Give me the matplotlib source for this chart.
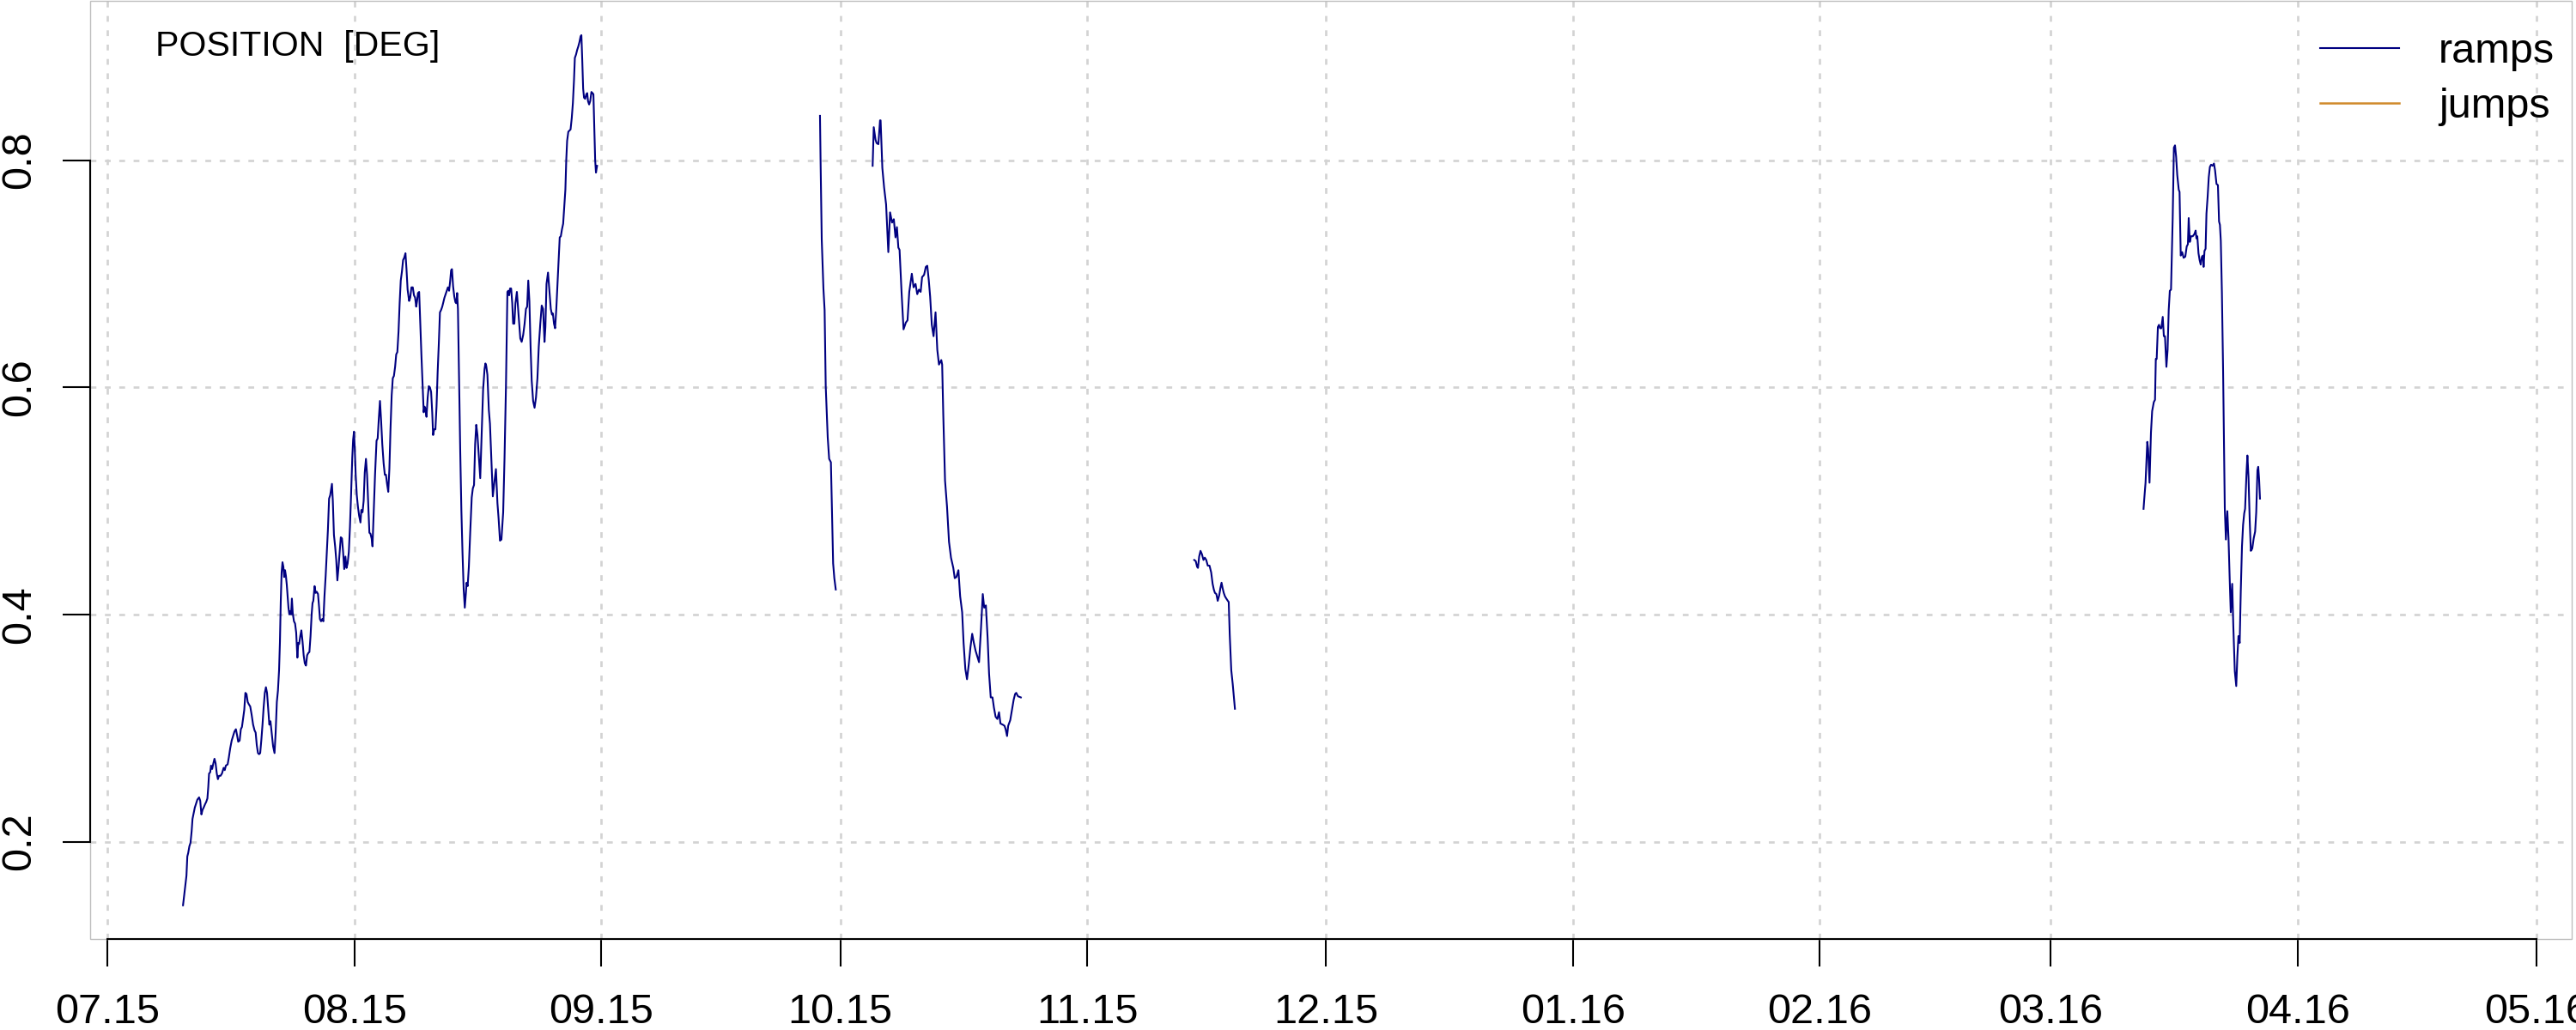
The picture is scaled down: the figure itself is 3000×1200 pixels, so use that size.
import numpy as np
import matplotlib
matplotlib.use("Agg")
import matplotlib.pyplot as plt
from matplotlib.patches import Rectangle

plt.rcParams['font.family'] = ['Liberation Sans', 'DejaVu Sans']

# ---------------- data (x = days since 2015-07-01, y = position in deg) ----
seg1 = [(9.47,0.144),(9.62,0.153),(9.76,0.162),(9.90,0.170),(10.01,0.187),(10.12,0.190),(10.27,0.196),(10.41,0.199),(10.55,0.209),(10.66,0.220),
(10.81,0.225),(10.95,0.230),(11.09,0.233),(11.27,0.237),(11.49,0.239),(11.63,0.236),(11.78,0.224),(11.92,0.228),(12.06,0.230),(12.24,0.233),
(12.38,0.235),(12.53,0.238),(12.64,0.248),(12.74,0.260),(12.88,0.261),(12.99,0.267),(13.13,0.264),(13.28,0.269),(13.42,0.273),(13.56,0.269),
(13.71,0.260),(13.85,0.255),(13.99,0.258),(14.18,0.258),(14.36,0.260),(14.57,0.265),(14.71,0.263),(14.85,0.267),(15.07,0.268),(15.22,0.274),
(15.39,0.282),(15.58,0.289),(15.76,0.293),(15.93,0.297),(16.11,0.299),(16.25,0.294),(16.40,0.288),(16.58,0.289),(16.73,0.299),(16.87,0.301),
(17.01,0.308),(17.16,0.316),(17.30,0.331),(17.44,0.330),(17.59,0.323),(17.73,0.321),(17.91,0.319),(18.08,0.312),(18.27,0.303),(18.45,0.298),
(18.59,0.296),(18.73,0.285),(18.88,0.278),(19.02,0.277),(19.16,0.278),(19.31,0.290),(19.45,0.303),(19.59,0.318),(19.74,0.331),(19.88,0.336),
(20.02,0.331),(20.17,0.316),(20.31,0.303),(20.45,0.306),(20.60,0.296),(20.78,0.284),(20.96,0.278),(21.10,0.296),(21.25,0.323),(21.39,0.333),
(21.53,0.351),(21.64,0.376),(21.74,0.411),(21.85,0.437),(21.96,0.446),(22.07,0.442),(22.17,0.433),(22.28,0.439),(22.39,0.434),(22.50,0.426),
(22.60,0.416),(22.71,0.406),(22.82,0.400),(22.93,0.403),(23.04,0.400),(23.14,0.414),(23.25,0.401),(23.40,0.394),(23.54,0.392),(23.68,0.384),
(23.83,0.362),(23.94,0.375),(24.05,0.374),(24.19,0.381),(24.33,0.386),(24.48,0.376),(24.62,0.364),(24.76,0.357),(24.91,0.355),(25.05,0.364),
(25.19,0.366),(25.34,0.367),(25.48,0.381),(25.62,0.400),(25.73,0.410),(25.83,0.412),(25.99,0.425),(26.12,0.419),(26.26,0.420),(26.42,0.418),
(26.56,0.406),(26.66,0.396),(26.80,0.394),(26.95,0.396),(27.09,0.394),(27.23,0.416),(27.38,0.434),(27.52,0.454),(27.66,0.474),(27.81,0.502),
(27.95,0.505),(28.06,0.510),(28.17,0.515),(28.28,0.500),(28.42,0.470),(28.57,0.460),(28.71,0.448),(28.85,0.430),(29.00,0.442),(29.14,0.455),
(29.28,0.468),(29.43,0.467),(29.57,0.455),(29.71,0.440),(29.86,0.451),(30.00,0.441),(30.14,0.445),(30.29,0.455),(30.43,0.477),(30.57,0.505),
(30.72,0.538),(30.83,0.554),(30.94,0.561),(31.04,0.545),(31.15,0.523),(31.29,0.505),(31.43,0.495),(31.58,0.487),(31.75,0.481),(31.86,0.492),
(32.01,0.490),(32.15,0.500),(32.29,0.525),(32.44,0.537),(32.58,0.523),(32.72,0.498),(32.87,0.472),(33.01,0.471),(33.15,0.467),(33.26,0.460),
(33.41,0.490),(33.58,0.523),(33.77,0.553),(33.91,0.555),(34.06,0.573),(34.20,0.588),(34.34,0.571),(34.49,0.550),(34.66,0.533),(34.81,0.523),
(34.95,0.523),(35.09,0.515),(35.24,0.508),(35.38,0.528),(35.52,0.563),(35.67,0.593),(35.81,0.608),(35.95,0.610),(36.10,0.618),(36.24,0.629),
(36.38,0.631),(36.53,0.649),(36.67,0.674),(36.81,0.694),(36.96,0.702),(37.10,0.712),(37.24,0.714),(37.40,0.718),(37.53,0.704),(37.67,0.686),
(37.86,0.676),(38.00,0.679),(38.15,0.688),(38.32,0.688),(38.47,0.681),(38.61,0.679),(38.75,0.671),(38.86,0.676),(38.97,0.683),(39.12,0.684),
(39.26,0.656),(39.40,0.629),(39.55,0.603),(39.69,0.578),(39.80,0.583),(39.90,0.581),(40.04,0.574),(40.19,0.591),(40.33,0.601),(40.47,0.600),
(40.62,0.596),(40.76,0.578),(40.87,0.558),(41.01,0.563),(41.16,0.563),(41.30,0.583),(41.44,0.613),(41.59,0.639),(41.73,0.666),(41.87,0.668),
(42.02,0.671),(42.16,0.675),(42.30,0.679),(42.45,0.682),(42.59,0.685),(42.73,0.688),(42.88,0.685),(43.02,0.694),(43.13,0.703),(43.24,0.704),
(43.38,0.689),(43.53,0.680),(43.67,0.675),(43.78,0.674),(43.89,0.683),(43.99,0.669),(44.13,0.608),(44.28,0.543),(44.42,0.492),(44.56,0.455),
(44.71,0.422),(44.85,0.406),(44.99,0.419),(45.07,0.428),(45.21,0.425),(45.36,0.442),(45.53,0.472),(45.72,0.503),(45.86,0.511),(46.01,0.514),
(46.15,0.550),(46.29,0.567),(46.44,0.558),(46.58,0.543),(46.72,0.528),(46.79,0.520),(46.97,0.560),(47.15,0.598),(47.33,0.616),(47.44,0.621),
(47.54,0.619),(47.69,0.611),(47.87,0.580),(48.01,0.568),(48.22,0.530),(48.37,0.504),(48.59,0.518),(48.76,0.528),(48.95,0.498),(49.09,0.485),
(49.27,0.465),(49.45,0.466),(49.67,0.490),(49.84,0.538),(50.02,0.601),(50.20,0.684),(50.31,0.685),(50.42,0.681),(50.53,0.687),(50.67,0.687),
(50.81,0.674),(50.92,0.656),(51.07,0.656),(51.21,0.674),(51.39,0.684),(51.53,0.671),(51.67,0.659),(51.82,0.643),(51.99,0.640),(52.18,0.646),
(52.36,0.656),(52.53,0.669),(52.68,0.671),(52.82,0.694),(52.96,0.676),(53.11,0.636),(53.25,0.606),(53.43,0.588),(53.61,0.582),(53.79,0.591),
(53.97,0.608),(54.14,0.636),(54.33,0.656),(54.51,0.672),(54.68,0.669),(54.86,0.640),(54.97,0.653),(55.11,0.691),(55.30,0.701),(55.48,0.684),
(55.65,0.669),(55.80,0.664),(55.91,0.665),(56.05,0.656),(56.19,0.652),(56.34,0.669),(56.48,0.689),(56.62,0.709),(56.77,0.732),(56.91,0.733),
(57.05,0.739),(57.20,0.744),(57.34,0.759),(57.48,0.774),(57.59,0.800),(57.70,0.817),(57.85,0.825),(57.99,0.826),(58.13,0.827),(58.28,0.837),
(58.42,0.850),(58.56,0.870),(58.67,0.890),(58.82,0.893),(58.96,0.897),(59.10,0.900),(59.25,0.904),(59.39,0.909),(59.49,0.910),(59.60,0.888),
(59.71,0.863),(59.82,0.855),(59.96,0.854),(60.11,0.858),(60.22,0.859),(60.32,0.852),(60.46,0.849),(60.60,0.852),(60.75,0.860),(60.89,0.859),
(61.00,0.858),(61.11,0.830),(61.22,0.800),(61.32,0.789),(61.46,0.795)]

seg2 = [(89.45,0.839),(89.52,0.801),(89.67,0.730),(89.88,0.687),(90.03,0.668),(90.17,0.601),(90.31,0.575),
(90.42,0.556),(90.60,0.537),(90.82,0.534),(90.96,0.490),(91.10,0.445),(91.25,0.432),(91.43,0.422)]

seg3 = [(96.06,0.795),(96.20,0.829),(96.42,0.818),(96.56,0.815),(96.78,0.814),(96.99,0.835),(97.06,0.835),(97.28,0.793),(97.50,0.776),(97.75,0.761),
(98.03,0.719),(98.25,0.754),(98.39,0.749),(98.50,0.745),(98.72,0.748),(98.93,0.732),(99.11,0.741),(99.29,0.723),(99.44,0.721),(99.69,0.684),
(99.94,0.651),(100.23,0.657),(100.44,0.659),(100.66,0.684),(100.98,0.700),(101.20,0.688),(101.45,0.691),(101.66,0.682),(101.88,0.686),(102.09,0.684),
(102.27,0.697),(102.52,0.699),(102.74,0.706),(102.92,0.707),(103.10,0.695),(103.28,0.680),(103.49,0.655),(103.71,0.645),(103.96,0.666),(104.18,0.633),
(104.39,0.620),(104.68,0.624),(104.79,0.620),(104.93,0.576),(105.15,0.518),(105.40,0.495),(105.65,0.464),(105.90,0.450),(106.19,0.441),(106.37,0.432),
(106.58,0.433),(106.83,0.439),(107.05,0.416),(107.30,0.402),(107.48,0.375),(107.70,0.352),(107.91,0.343),(108.13,0.356),(108.34,0.371),(108.56,0.383),
(108.77,0.375),(108.99,0.368),(109.20,0.363),(109.42,0.358),(109.63,0.383),(109.89,0.418),(110.07,0.406),(110.28,0.408),(110.50,0.379),(110.68,0.348),
(110.89,0.327),(111.11,0.327),(111.29,0.318),(111.50,0.310),(111.72,0.308),(111.93,0.314),(112.11,0.304),(112.40,0.303),(112.62,0.302),(112.76,0.299),
(112.94,0.293),(113.08,0.302),(113.34,0.307),(113.55,0.316),(113.77,0.325),(113.95,0.330),(114.09,0.331),(114.31,0.328),(114.67,0.327)]

seg4 = [(136.44,0.448),(136.63,0.447),(136.80,0.442),(136.91,0.441),(137.06,0.451),(137.23,0.456),(137.41,0.453),(137.60,0.448),
(137.77,0.450),(137.95,0.448),(138.14,0.443),(138.36,0.443),(138.57,0.437),(138.75,0.427),(138.90,0.422),(139.04,0.419),
(139.22,0.418),(139.39,0.412),(139.58,0.417),(139.72,0.423),(139.87,0.428),(140.01,0.423),(140.15,0.419),(140.30,0.416),
(140.47,0.414),(140.66,0.412),(140.77,0.411),(140.90,0.382),(141.09,0.351),(141.27,0.339),(141.44,0.326),(141.55,0.317)]

seg5 = [(255.64,0.493),(255.71,0.500),(255.89,0.516),(256.11,0.552),(256.21,0.546),(256.39,0.516),(256.57,0.560),(256.72,0.579),
(256.93,0.587),(257.08,0.589),(257.18,0.625),(257.29,0.625),(257.44,0.653),(257.58,0.655),(257.72,0.652),(257.87,0.652),
(258.05,0.662),(258.19,0.645),(258.33,0.645),(258.51,0.618),(258.66,0.633),(258.80,0.668),(258.94,0.685),(259.09,0.686),
(259.30,0.749),(259.45,0.811),(259.59,0.813),(259.73,0.803),(259.87,0.787),(260.06,0.774),(260.16,0.772),(260.31,0.716),
(260.49,0.719),(260.67,0.714),(260.88,0.715),(261.06,0.724),(261.21,0.726),(261.31,0.749),(261.45,0.728),(261.60,0.733),
(261.82,0.733),(262.03,0.735),(262.18,0.738),(262.28,0.731),(262.39,0.733),(262.54,0.718),(262.68,0.712),(262.82,0.708),
(262.97,0.715),(263.11,0.716),(263.18,0.706),(263.29,0.720),(263.43,0.722),(263.54,0.753),(263.69,0.768),(263.83,0.785),
(263.97,0.794),(264.12,0.796),(264.30,0.795),(264.48,0.797),(264.62,0.791),(264.80,0.779),(264.98,0.778),(265.12,0.746),
(265.23,0.743),(265.34,0.729),(265.48,0.683),(265.63,0.614),(265.73,0.556),(265.84,0.494),(265.98,0.466),(266.16,0.491),
(266.31,0.467),(266.45,0.433),(266.59,0.402),(266.77,0.427),(266.91,0.390),(267.10,0.350),(267.28,0.337),(267.42,0.363),
(267.56,0.381),(267.71,0.375),(267.85,0.421),(268.00,0.460),(268.14,0.479),(268.28,0.489),(268.39,0.493),(268.57,0.525),
(268.68,0.540),(268.82,0.521),(268.97,0.483),(269.11,0.456),(269.29,0.458),(269.47,0.467),(269.65,0.473),(269.79,0.490),
(269.94,0.527),(270.04,0.530),(270.15,0.519),(270.26,0.502)]

ramp_segments = [seg1, seg2, seg3, seg4, seg5]

tick_months = ["2015-07-01", "2015-08-01", "2015-09-01", "2015-10-01", "2015-11-01", "2015-12-01",
               "2016-01-01", "2016-02-01", "2016-03-01", "2016-04-01", "2016-05-01"]
tick_labels = ["07.15", "08.15", "09.15", "10.15", "11.15", "12.15",
               "01.16", "02.16", "03.16", "04.16", "05.16"]
y_ticks = [0.2, 0.4, 0.6, 0.8]
y_tick_labels = ["0.2", "0.4", "0.6", "0.8"]

# ---------------- figure -----------------------------------------------------
origin = np.datetime64("2015-07-01")
xt = [(np.datetime64(m) - origin).astype(int) for m in tick_months]

fig = plt.figure(figsize=(15, 6), dpi=200)
ax = fig.add_axes([0.035, 0.08833, 0.96333, 0.91083])

xs, ys = [], []
for seg in ramp_segments:
    sx, sy = zip(*seg)
    xs += list(sx) + [np.nan]
    ys += list(sy) + [np.nan]
ramps_line, = ax.plot(xs, ys, color="#000080", lw=0.75, label="ramps", zorder=3)
jumps_line, = ax.plot([], [], color="#D08A2C", lw=0.9, label="jumps", zorder=3)

ax.set_xlim(-2.19, 309.4)
ax.set_ylim(0.1143, 0.9402)

grid_kw = dict(color="#D3D3D3", lw=0.97, linestyle=(0, (2.5, 3.7)), zorder=1)
ax.set_xticks(xt)
ax.set_xticklabels(tick_labels)
ax.set_yticks(y_ticks)
ax.set_yticklabels(y_tick_labels, rotation=90, va="center")
ax.grid(True, **grid_kw)

for s in ["top", "right"]:
    ax.spines[s].set_visible(False)
for s in ["left", "bottom"]:
    ax.spines[s].set_color("black")
    ax.spines[s].set_linewidth(0.75)
    ax.spines[s].set_zorder(5)
ax.spines["bottom"].set_bounds(xt[0], xt[-1])
ax.spines["left"].set_bounds(y_ticks[0], y_ticks[-1])

ax.add_patch(Rectangle((0, 0), 1, 1, transform=ax.transAxes, fill=False,
                       edgecolor="#BEBEBE", lw=0.5, clip_on=False, zorder=4))

ax.tick_params(axis="both", length=11.5, width=0.75, color="black",
               labelsize=17.5, labelcolor="black")
ax.tick_params(axis="x", pad=11)
ax.tick_params(axis="y", pad=10)

ax.text(0.0263, 0.9414, "POSITION  [DEG]", transform=ax.transAxes,
        fontsize=14.8, ha="left", va="baseline", color="black")

ax.legend(handles=[ramps_line, jumps_line], loc="upper right",
          bbox_to_anchor=(0.9931, 0.9661), frameon=False, fontsize=17.5,
          handlelength=1.9, handletextpad=0.94, labelspacing=0.38,
          borderpad=0, borderaxespad=0)

fig.savefig("out.png", dpi=200)
